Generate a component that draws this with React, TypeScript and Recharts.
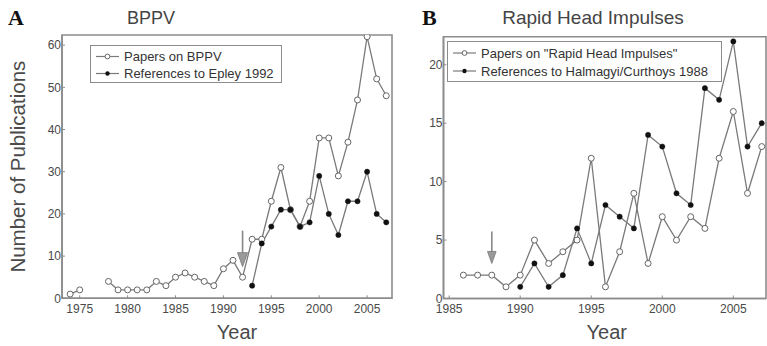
import { LineChart, Line, XAxis, YAxis, ReferenceDot, ReferenceArea, Legend } from "recharts"

// Panel A: BPPV
const bppvYears = [
  1974, 1975, 1976, 1977, 1978, 1979, 1980, 1981, 1982, 1983, 1984, 1985, 1986, 1987, 1988, 1989, 1990,
  1991, 1992, 1993, 1994, 1995, 1996, 1997, 1998, 1999, 2000, 2001, 2002, 2003, 2004, 2005, 2006, 2007,
]
const bppvPapers = [
  1, 2, null, null, 4, 2, 2, 2, 2, 4, 3, 5, 6, 5, 4, 3, 7, 9, 5, 14, 14, 23, 31, 21, 17, 23, 38, 38, 29, 37,
  47, 62, 52, 48,
]
const epleyRefs = [
  null, null, null, null, null, null, null, null, null, null, null, null, null, null, null, null, null, null,
  null, 3, 13, 17, 21, 21, 17, 18, 29, 20, 15, 23, 23, 30, 20, 18,
]
const bppvYearTicks = [1975, 1980, 1985, 1990, 1995, 2000, 2005]
const bppvCountTicks = [0, 10, 20, 30, 40, 50, 60]
const epleyYear = 1992

// Panel B: Rapid Head Impulses
const rhiYears = [
  1986, 1987, 1988, 1989, 1990, 1991, 1992, 1993, 1994, 1995, 1996, 1997, 1998, 1999, 2000, 2001, 2002, 2003,
  2004, 2005, 2006, 2007,
]
const rhiPapers = [2, 2, 2, 1, 2, 5, 3, 4, 5, 12, 1, 4, 9, 3, 7, 5, 7, 6, 12, 16, 9, 13]
const halmagyiRefs = [null, null, null, null, 1, 3, 1, 2, 6, 3, 8, 7, 6, 14, 13, 9, 8, 18, 17, 22, 13, 15]
const rhiYearTicks = [1985, 1990, 1995, 2000, 2005]
const rhiCountTicks = [0, 5, 10, 15, 20]
const halmagyiYear = 1988

const FONT = '"Liberation Sans", Arial, Helvetica, sans-serif'
const FRAME = "#8c8c8c"
const LINE = "#7a7a7a"
const TICK = "#4a4a4a"

function ArrowDown({ cx, cy, length, head, half }: any) {
  if (cx == null || cy == null) return null
  return (
    <g>
      <line x1={cx} y1={cy - length} x2={cx} y2={cy - head + 1} stroke="#888" strokeWidth={1.6} />
      <path d={`M${cx - half},${cy - head} L${cx + half},${cy - head} L${cx},${cy} Z`} fill="#9a9a9a" stroke="#777" strokeWidth={0.8} />
    </g>
  )
}

function LegendBox({ labels, width, height, rowH, padTop }: any) {
  return (
    <div
      style={{
        width,
        height,
        boxSizing: "border-box",
        border: `1.6px solid ${FRAME}`,
        background: "#fff",
        paddingTop: padTop,
        fontFamily: FONT,
        fontSize: 13,
        color: "#333",
      }}
    >
      {labels.map((l: string, i: number) => (
        <div key={l} style={{ height: rowH, display: "flex", alignItems: "center", whiteSpace: "nowrap" }}>
          <svg width={33} height={rowH} style={{ flex: "none" }}>
            <line x1={5} y1={rowH / 2} x2={28} y2={rowH / 2} stroke={LINE} strokeWidth={1.2} />
            {i === 0 ? (
              <circle cx={16.5} cy={rowH / 2} r={2.4} fill="#fff" stroke="#666" strokeWidth={1} />
            ) : (
              <circle cx={16.5} cy={rowH / 2} r={2.2} fill="#111" />
            )}
          </svg>
          <span>{l}</span>
        </div>
      ))}
    </div>
  )
}

function Panel({
  years, papers, refs, names, xDomain, yDomain, xTicks, yTicks, arrowYear, arrowTip, arrowLen, arrowHead,
  width, margin, legend, yLabel, yearDx,
}: any) {
  const rows = years.map((year: number, i: number) => ({ year, papers: papers[i], refs: refs[i] }))
  const axisLine = { stroke: FRAME, strokeWidth: 1.6 }
  const tickLine = { stroke: FRAME, strokeWidth: 1 }
  return (
    <LineChart width={width} height={346} data={rows} margin={margin}>
      <XAxis
        dataKey="year"
        type="number"
        domain={xDomain}
        ticks={xTicks}
        interval={0}
        allowDataOverflow
        height={30}
        tickSize={-3}
        tickMargin={9}
        axisLine={axisLine}
        tickLine={tickLine}
        tick={{ fill: TICK, fontSize: 12, fontFamily: FONT }}
        label={{ value: "Year", position: "bottom", offset: -4, dx: yearDx, fill: "#4a4a4a", fontSize: 20, fontFamily: FONT }}
      />
      <YAxis
        type="number"
        domain={yDomain}
        ticks={yTicks}
        interval={0}
        allowDataOverflow
        width={40}
        tickSize={-3}
        tickMargin={4}
        axisLine={axisLine}
        tickLine={tickLine}
        tick={{ fill: TICK, fontSize: 12, fontFamily: FONT }}
        label={
          yLabel
            ? { value: yLabel, angle: -90, position: "left", offset: 4, fill: "#4a4a4a", fontSize: 20.5, fontFamily: FONT, style: { textAnchor: "middle" } }
            : undefined
        }
      />
      <ReferenceArea
        x1={xDomain[0]}
        x2={xDomain[1]}
        y1={yDomain[0]}
        y2={yDomain[1]}
        fill="none"
        stroke={FRAME}
        strokeWidth={1.6}
        ifOverflow="visible"
      />
      <Legend
        verticalAlign="middle"
        align="center"
        layout="horizontal"
        wrapperStyle={{ left: legend.left, top: legend.top, width: legend.width, height: legend.height }}
        content={() => (
          <LegendBox labels={names} width={legend.width} height={legend.height} rowH={legend.rowH} padTop={legend.padTop} />
        )}
      />
      <Line
        dataKey="papers"
        name={names[0]}
        stroke={LINE}
        strokeWidth={1.3}
        dot={{ r: 3, fill: "#fff", stroke: "#666", strokeWidth: 1 }}
        isAnimationActive={false}
      />
      <Line
        dataKey="refs"
        name={names[1]}
        stroke={LINE}
        strokeWidth={1.3}
        dot={{ r: 2.6, fill: "#111", stroke: "#111", strokeWidth: 0.5 }}
        isAnimationActive={false}
      />
      <ReferenceDot
        x={arrowYear}
        y={arrowTip}
        r={0}
        shape={(p: any) => <ArrowDown cx={p.cx} cy={p.cy} length={arrowLen} head={arrowHead} half={arrowHead * 0.36} />}
      />
    </LineChart>
  )
}

export default function App() {
  return (
    <div style={{ position: "absolute", left: 0, top: 0, width: 767, height: 346, overflow: "hidden", background: "#fff" }}>
      <div style={{ position: "absolute", left: 0, top: 0 }}>
        <Panel
          years={bppvYears}
          papers={bppvPapers}
          refs={epleyRefs}
          names={["Papers on BPPV", "References to Epley 1992"]}
          xDomain={[1973.15, 2007.6]}
          yDomain={[0, 62.4]}
          xTicks={bppvYearTicks}
          yTicks={bppvCountTicks}
          arrowYear={epleyYear}
          arrowTip={7.5}
          arrowLen={36}
          arrowHead={14}
          width={400}
          margin={{ top: 35, right: 8, bottom: 17.7, left: 22 }}
          legend={{ left: 90, top: 45, width: 192, height: 38, rowH: 17, padTop: 1.5 }}
          yLabel="Number of Publications"
          yearDx={10}
        />
      </div>
      <div style={{ position: "absolute", left: 400, top: 0 }}>
        <Panel
          years={rhiYears}
          papers={rhiPapers}
          refs={halmagyiRefs}
          names={['Papers on "Rapid Head Impulses"', "References to Halmagyi/Curthoys 1988"]}
          xDomain={[1984.6, 2007.3]}
          yDomain={[0, 22.4]}
          xTicks={rhiYearTicks}
          yTicks={rhiCountTicks}
          arrowYear={halmagyiYear}
          arrowTip={3}
          arrowLen={32}
          arrowHead={12}
          width={367}
          margin={{ top: 36.7, right: 1, bottom: 17.5, left: 3.5 }}
          legend={{ left: 47, top: 41, width: 275, height: 41, rowH: 18, padTop: 2 }}
          yearDx={2}
        />
      </div>
      <svg width={767} height={346} style={{ position: "absolute", left: 0, top: 0, pointerEvents: "none" }}>
        <text x={8} y={25} fontFamily='"Liberation Serif", "Times New Roman", serif' fontWeight="bold" fontSize={22} fill="#111">
          A
        </text>
        <text x={151} y={23.5} textAnchor="middle" fontFamily={FONT} fontSize={18} fill="#444">
          BPPV
        </text>
        <text x={422} y={25} fontFamily='"Liberation Serif", "Times New Roman", serif' fontWeight="bold" fontSize={22} fill="#111">
          B
        </text>
        <text x={593} y={23.5} textAnchor="middle" fontFamily={FONT} fontSize={19} fill="#444">
          Rapid Head Impulses
        </text>
      </svg>
    </div>
  )
}
